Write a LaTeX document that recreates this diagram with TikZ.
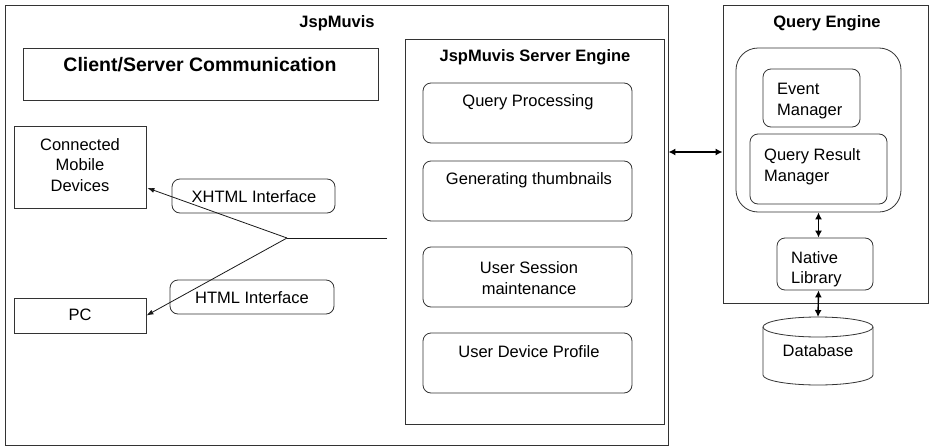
\documentclass[tikz,border=0pt]{standalone}
\usepackage{fontspec}
\setmainfont{Liberation Sans}
\usetikzlibrary{arrows.meta,calc}

\begin{document}
\begin{tikzpicture}[x=1pt,y=-1pt,
  frame/.style={draw=black!80, line width=0.8pt, inner sep=0pt},
  rbox/.style={frame, rounded corners=8pt},
  multi/.style={font=\fontsize{16.5}{20.5}\selectfont, inner sep=0pt},
  lbl/.style={multi, text height=12pt, text depth=3.5pt},
  ttl/.style={lbl, font=\fontsize{16.5}{20.5}\selectfont\bfseries},
  wire/.style={draw=black!90, line width=0.8pt},
  tip/.style={-{Latex[length=7pt,width=5pt]}},
  both/.style={{Latex[length=7pt,width=7pt]}-{Latex[length=7pt,width=7pt]}, line width=1.4pt}
]
\useasboundingbox (0,0) rectangle (929,447);

% ---- JspMuvis container ----
\node[frame, minimum width=663pt, minimum height=440pt] (jsp) at (336.5,225) {};
\node[ttl] (jsptitle) at (337,23) {JspMuvis};

\node[frame, minimum width=355pt, minimum height=52pt] (cs) at (200.5,74) {};
\node[ttl, font=\fontsize{19.5}{22}\selectfont\bfseries] (cstext) at (200,67) {Client/Server Communication};

% client side
\node[frame, minimum width=132pt, minimum height=82pt] (cmd) at (80,167) {};
\node[multi, align=center] (cmdtext) at (80,165) {Connected\\Mobile\\Devices};
\node[frame, minimum width=132pt, minimum height=35pt] (pc) at (80,315.5) {};
\node[lbl] (pctext) at (80,316) {PC};

\node[rbox, minimum width=163pt, minimum height=34pt] (xhtml) at (253.5,196) {};
\node[lbl] (xhtmltext) at (254,198) {XHTML Interface};
\node[rbox, minimum width=164pt, minimum height=34pt] (html) at (252,297) {};
\node[lbl] (htmltext) at (252,299) {HTML Interface};

% fan-out from the server engine to the clients
\coordinate (hub) at (287,238);
\coordinate (hubend) at (387,238);
\draw[wire] (hubend) -- (hub);
\draw[wire, tip] (hub) -- ($(cmd.east)+(1,21)$);
\draw[wire, tip] (hub) -- (pc.east);

% ---- server engine ----
\node[frame, minimum width=259pt, minimum height=385pt] (srv) at (534.5,231.5) {};
\node[ttl] (srvtitle) at (535,57) {JspMuvis Server Engine};

\node[rbox, minimum width=209pt, minimum height=60pt] (qp) at (527.5,113) {};
\node[lbl] (qptext) at (528,102) {Query Processing};
\node[rbox, minimum width=209pt, minimum height=60pt] (gt) at (527.5,191) {};
\node[lbl] (gttext) at (529,180) {Generating thumbnails};
\node[rbox, minimum width=209pt, minimum height=60pt] (us) at (527.5,277) {};
\node[multi, align=center] (ustext) at (529,278) {User Session\\maintenance};
\node[rbox, minimum width=209pt, minimum height=60pt] (udp) at (527.5,363) {};
\node[lbl] (udptext) at (529,353) {User Device Profile};

% ---- query engine ----
\node[frame, minimum width=205pt, minimum height=298pt] (qe) at (825.5,154) {};
\node[ttl] (qetitle) at (827,23) {Query Engine};

\node[frame, rounded corners=22pt, minimum width=165pt, minimum height=164pt] (core) at (818.5,130) {};
\node[rbox, minimum width=97pt, minimum height=58pt] (em) at (811.5,98) {};
\node[multi, align=left, anchor=west] (emtext) at (777,101) {Event\\Manager};
\node[rbox, minimum width=137pt, minimum height=70pt] (qrm) at (818.5,169) {};
\node[multi, align=left, anchor=west] (qrmtext) at (764,166.5) {Query Result\\Manager};

\node[rbox, minimum width=96pt, minimum height=52pt] (nl) at (825,264) {};
\node[multi, align=left, anchor=west] (nltext) at (791,269) {Native\\Library};

% database cylinder
\draw[frame] (763,327) -- (763,375) arc[start angle=180, end angle=360, x radius=55pt, y radius=10pt] -- (873,327);
\draw[frame] (818,327) ellipse [x radius=55pt, y radius=10pt];
\coordinate (dbtop) at (818,317);
\node[lbl] (dbtext) at (818,352) {Database};

% links
\coordinate (link) at (695,152);
\draw[both] (link -| jsp.east) -- (link -| qe.west);
\draw[both] (core.south) -- (core.south |- nl.north);
\draw[both] (core.south |- nl.south) -- (dbtop);
\end{tikzpicture}
\end{document}
